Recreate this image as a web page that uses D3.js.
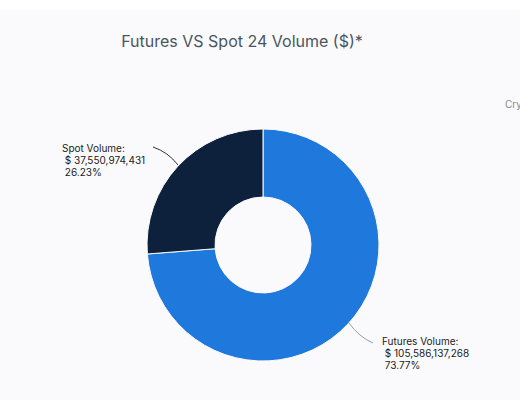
<!DOCTYPE html>
<html><head><meta charset="utf-8">
<script src="https://cdn.jsdelivr.net/npm/d3@7"></script>
<style>body{margin:0;background:#fff}</style></head>
<body><svg id="svg" width="520" height="400"></svg>
<script>
var names = ["Futures Volume:", "Spot Volume:"];
var values = [105586137268, 37550974431];
var percents = ["73.77%", "26.23%"];
var colors = ["#1f78dc", "#0d213c"];

var svg = d3.select("#svg");
svg.append("rect").attr("x", 0).attr("y", 10).attr("width", 520).attr("height", 390).attr("fill", "#fafafc");

svg.append("text").attr("x", 242).attr("y", 47).attr("text-anchor", "middle")
  .attr("style", "font: 16px Inter, sans-serif; fill: #4a5560").text("Futures VS Spot 24 Volume ($)*");
svg.append("text").attr("x", 505).attr("y", 108)
  .attr("style", "font: 10px Inter, sans-serif; fill: #888").text("Cry");

var cx = 263, cy = 245;
var pie = d3.pie().sort(null)(values);
var arc = d3.arc().innerRadius(48).outerRadius(116);
var g = svg.append("g").attr("transform", "translate(" + cx + "," + cy + ")");
g.selectAll("path").data(pie).enter().append("path")
  .attr("d", arc).attr("fill", (d, i) => colors[i])
  .attr("stroke", "#fafafc").attr("stroke-width", 1);

// leader lines and labels
var leaders = [
  {path: "M " + (cx + 86) + " " + (cy + 78) + " Q " + (cx + 96) + " " + (cy + 92) + " " + (cx + 110) + " " + (cy + 98), tx: 382, ty: 345},
  {path: "M " + (cx - 85) + " " + (cy - 80) + " Q " + (cx - 95) + " " + (cy - 93) + " " + (cx - 110) + " " + (cy - 98), tx: 62, ty: 152}
];
leaders.forEach(function (l, i) {
  svg.append("path").attr("d", l.path).attr("fill", "none").attr("stroke", i == 0 ? "#8aa0b0" : "#333").attr("stroke-width", 1);
  var t = svg.append("text").attr("x", l.tx).attr("y", l.ty)
    .attr("style", "font: 10px Inter, sans-serif; fill: #1a1a1a");
  t.append("tspan").attr("x", l.tx).text(names[i]);
  t.append("tspan").attr("x", l.tx).attr("dy", 12).text("\u00a0$ " + d3.format(",")(values[i]));
  t.append("tspan").attr("x", l.tx).attr("dy", 12).text("\u00a0" + percents[i]);
});
</script></body></html>
